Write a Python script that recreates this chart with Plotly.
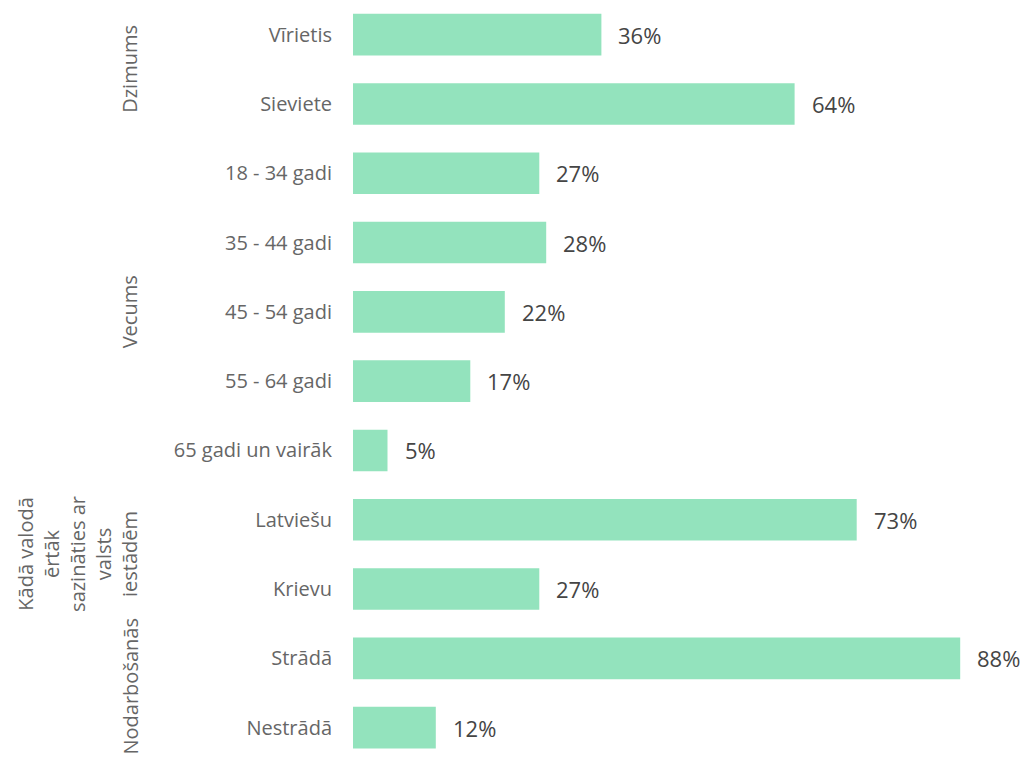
import plotly.graph_objects as go

categories = ["Vīrietis", "Sieviete", "18 - 34 gadi", "35 - 44 gadi", "45 - 54 gadi",
              "55 - 64 gadi", "65 gadi un vairāk", "Latviešu", "Krievu", "Strādā", "Nestrādā"]
values = [36, 64, 27, 28, 22, 17, 5, 73, 27, 88, 12]
groups = ["Dzimums", "Vecums", "Kādā valodā<br>ērtāk<br>sazināties ar<br>valsts<br>iestādēm", "Nodarbošanās"]
group_rows = [(0, 1), (2, 6), (7, 8), (9, 10)]

W, H = 1024, 758
L = 353
FONT = "Open Sans"

fig = go.Figure(go.Bar(
    x=values, y=categories, orientation="h",
    marker=dict(color="#93E3BD", line=dict(width=0)),
    hoverinfo="skip",
))

row_h = 69.3
top_idx = -0.5
bot_idx = top_idx + H / row_h

annotations = []
for c, v in zip(categories, values):
    annotations.append(dict(x=v, y=c, xref="x", yref="y", text=f"{v}%", showarrow=False,
                            xanchor="left", xshift=15, font=dict(family=FONT, size=22, color="#454545")))

for i, (g, (a, b)) in enumerate(zip(groups, group_rows)):
    ann = dict(x=(145 - L) / (W - L), xref="paper", y=(a + b) / 2, yref="y",
               text=g, showarrow=False, textangle=-90, xanchor="right", yanchor="middle",
               align="center", font=dict(family=FONT, size=20, color="#666666"))
    if i == len(groups) - 1:
        # keep the last group label inside the picture
        ann.update(y=0, yref="paper", yanchor="bottom", yshift=1)
    annotations.append(ann)

fig.update_layout(
    width=W, height=H,
    margin=dict(l=L, r=0, t=0, b=0),
    paper_bgcolor="white", plot_bgcolor="white",
    bargap=0.4,
    showlegend=False,
    xaxis=dict(range=[0, (W - L) / 6.9], visible=False, fixedrange=True),
    yaxis=dict(range=[bot_idx, top_idx], showgrid=False, zeroline=False, showline=False,
               ticks="", ticklabelstandoff=20, fixedrange=True,
               tickfont=dict(family=FONT, size=20, color="#666666")),
    annotations=annotations,
)

fig.write_html("out.html", config={"displayModeBar": False},
               post_script="document.body.style.margin='0';document.body.style.overflow='hidden';")
